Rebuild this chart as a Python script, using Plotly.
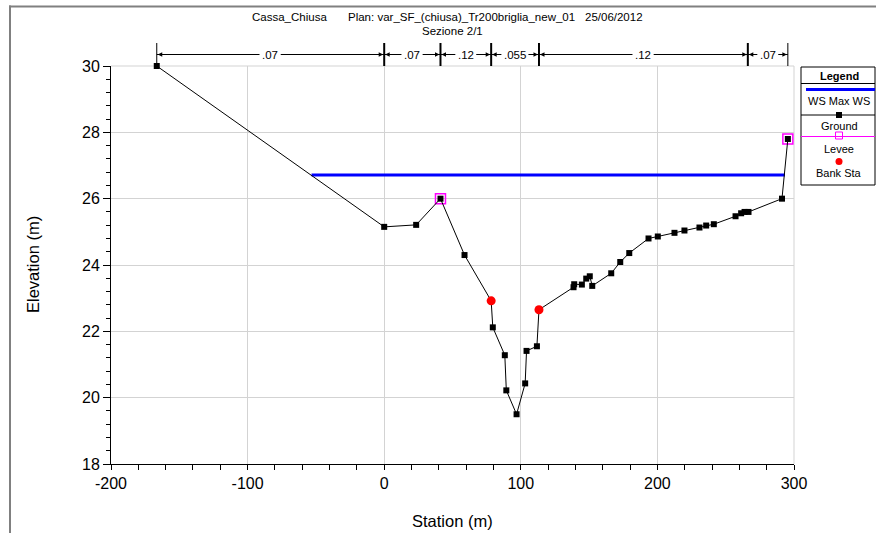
import plotly.graph_objects as go

# ---------------- data ----------------
ground_station = [-166.5, 0.0, 23.4, 41.2, 58.8, 78.3, 79.5, 88.3, 89.4, 96.9, 103.2, 104.2,
                  111.8, 113.3, 138.6, 139.1, 144.7, 147.9, 150.5, 152.3, 166.2, 172.8, 179.4,
                  193.5, 200.3, 212.5, 219.8, 230.8, 235.7, 241.3, 257.2, 261.3, 263.8, 266.7,
                  291.2, 295.5]
ground_elev = [30.0, 25.15, 25.21, 26.0, 24.30, 22.92, 22.12, 21.28, 20.22, 19.50, 20.43, 21.41,
               21.55, 22.65, 23.33, 23.42, 23.41, 23.59, 23.66, 23.37, 23.75, 24.09, 24.36,
               24.80, 24.86, 24.97, 25.04, 25.13, 25.19, 25.23, 25.47, 25.56, 25.60, 25.60,
               26.0, 27.8]
levee_station = [41.2, 295.5]
levee_elev = [26.0, 27.8]
bank_station = [78.3, 113.3]
bank_elev = [22.92, 22.65]
ws_station = [-53.2, 293.3]
ws_elev = [26.71, 26.71]
n_bounds = [-166.5, 0.0, 41.2, 78.3, 113.3, 266.2, 295.5]
n_values = [".07", ".07", ".12", ".055", ".12", ".07"]

title_left = "Cassa_Chiusa"
title_mid = "Plan: var_SF_(chiusa)_Tr200briglia_new_01"
title_right = "25/06/2012"
subtitle = "Sezione 2/1"
x_ticks = [-200, -100, 0, 100, 200, 300]
x_tick_labels = ["-200", "-100", "0", "100", "200", "300"]
y_ticks = [18, 20, 22, 24, 26, 28, 30]
y_tick_labels = ["18", "20", "22", "24", "26", "28", "30"]

# ---------------- layout helpers ----------------
W, H = 876, 533
L, R, T, B = 111, 82, 66, 69
pw, ph = W - L - R, H - T - B
FONT = "Liberation Sans, Arial, sans-serif"
GRID = "#d3d3d3"


def px(x):
    return (x - L) / pw


def py(y):
    return (H - B - y) / ph


fig = go.Figure()

fig.add_trace(go.Scatter(x=ws_station, y=ws_elev, mode="lines",
                         line=dict(color="#0000ff", width=3), name="WS Max WS",
                         hoverinfo="skip"))
fig.add_trace(go.Scatter(x=levee_station, y=levee_elev, mode="markers",
                         marker=dict(symbol="square-open", size=10, color="#ff00ff",
                                     line=dict(width=1.5, color="#ff00ff")),
                         name="Levee", cliponaxis=False))
fig.add_trace(go.Scatter(x=ground_station, y=ground_elev, mode="lines+markers",
                         line=dict(color="black", width=1),
                         marker=dict(symbol="square", size=6, color="black"),
                         name="Ground", cliponaxis=False))
fig.add_trace(go.Scatter(x=bank_station, y=bank_elev, mode="markers",
                         marker=dict(symbol="circle", size=9, color="#ff0000"),
                         name="Bank Sta"))

shapes = []
annotations = []

# grid lines at the plot edges (top / right)
shapes.append(dict(type="line", xref="paper", yref="paper", x0=0, x1=1, y0=1, y1=1,
                   line=dict(color=GRID, width=1), layer="below"))
shapes.append(dict(type="line", xref="paper", yref="paper", x0=1, x1=1, y0=0, y1=1,
                   line=dict(color=GRID, width=1), layer="below"))

# frame lines (top and left) of the exported picture
shapes.append(dict(type="line", xref="paper", yref="paper", x0=px(9), x1=px(W + 5),
                   y0=py(6.5), y1=py(6.5), line=dict(color="#808080", width=2)))
shapes.append(dict(type="line", xref="paper", yref="paper", x0=px(10), x1=px(10),
                   y0=py(5.5), y1=py(H + 5), line=dict(color="#808080", width=2)))

# Manning's n bar
y_arrow = py(54.5)
y_tick_top = py(43)
for i, b in enumerate(n_bounds):
    interior = 0 < i < len(n_bounds) - 1
    shapes.append(dict(type="line", xref="x", yref="paper", x0=b, x1=b,
                       y0=1.0, y1=y_tick_top,
                       line=dict(color="black", width=2 if interior else 1)))
for i, lab in enumerate(n_values):
    a, b = n_bounds[i], n_bounds[i + 1]
    c = (a + b) / 2
    shapes.append(dict(type="line", xref="x", yref="paper", x0=a, x1=b,
                       y0=y_arrow, y1=y_arrow, line=dict(color="black", width=1)))
    for tgt in (a, b):
        annotations.append(dict(x=tgt, y=y_arrow, xref="x", yref="paper",
                                ax=c, ay=0, axref="x", ayref="pixel",
                                text=lab, showarrow=True, arrowhead=2, arrowsize=0.9,
                                arrowwidth=1, arrowcolor="black", standoff=1,
                                bgcolor="white", borderpad=2,
                                font=dict(family=FONT, size=11.5, color="black")))


def label(txt, cx, cy, size, angle=0):
    annotations.append(dict(x=px(cx), y=py(cy), xref="paper", yref="paper",
                            text=txt, showarrow=False, xanchor="center", yanchor="middle",
                            textangle=angle,
                            font=dict(family=FONT, size=size, color="black")))


# title
label(title_left, 289, 17, 11.5)
label(title_mid, 461.5, 17, 11.5)
label(title_right, 614, 17, 11.5)
label(subtitle, 452, 31, 11.5)

# axis titles
label("Station (m)", 452, 521, 16.5)
label("Elevation (m)", 33, 265, 16.5, -90)

# custom legend box
lx0, lx1 = 801, 875
shapes.append(dict(type="rect", xref="paper", yref="paper", x0=px(lx0), x1=px(lx1),
                   y0=py(185), y1=py(67), line=dict(color="black", width=1),
                   fillcolor="white"))
shapes.append(dict(type="line", xref="paper", yref="paper", x0=px(lx0), x1=px(lx1),
                   y0=py(83.5), y1=py(83.5), line=dict(color="black", width=1)))
lcx = 839
label("<b>Legend</b>", lcx, 75.5, 11)
# WS
shapes.append(dict(type="line", xref="paper", yref="paper", x0=px(806), x1=px(875),
                   y0=py(89.5), y1=py(89.5), line=dict(color="#0000ff", width=3)))
# Ground
shapes.append(dict(type="line", xref="paper", yref="paper", x0=px(lx0), x1=px(lx1),
                   y0=py(115), y1=py(115), line=dict(color="black", width=1)))
shapes.append(dict(type="rect", xref="paper", yref="paper", x0=px(lcx - 3), x1=px(lcx + 3),
                   y0=py(118), y1=py(112), line=dict(color="black", width=0),
                   fillcolor="black"))
# Levee
shapes.append(dict(type="line", xref="paper", yref="paper", x0=px(lx0), x1=px(lx1),
                   y0=py(136.5), y1=py(136.5), line=dict(color="#ff00ff", width=1)))
shapes.append(dict(type="rect", xref="paper", yref="paper", x0=px(lcx - 3.5), x1=px(lcx + 3.5),
                   y0=py(139), y1=py(132), line=dict(color="#ff00ff", width=1),
                   fillcolor="rgba(0,0,0,0)"))
# Bank Sta
shapes.append(dict(type="circle", xref="paper", yref="paper", x0=px(lcx - 3.5), x1=px(lcx + 3.5),
                   y0=py(165), y1=py(158), line=dict(color="#ff0000", width=0),
                   fillcolor="#ff0000"))
label("WS Max WS", lcx, 101.5, 11)
label("Ground", lcx, 125.5, 11)
label("Levee", lcx, 149, 11)
label("Bank Sta", lcx, 173, 11)

fig.update_layout(
    width=W, height=H,
    margin=dict(l=L, r=R, t=T, b=B, pad=0),
    paper_bgcolor="white", plot_bgcolor="white",
    showlegend=False,
    shapes=shapes, annotations=annotations,
    font=dict(family=FONT, color="black"),
)
fig.update_xaxes(range=[-200, 300], tickvals=x_ticks, ticktext=x_tick_labels,
                 showgrid=True, gridcolor=GRID,
                 gridwidth=1, zeroline=False, showline=True, linecolor="black", linewidth=1,
                 ticks="outside", ticklen=5, tickcolor="black",
                 tickfont=dict(family=FONT, size=16, color="black"),
                 minor=dict(dtick=20, ticks="outside", ticklen=5, tickcolor="black",
                            showgrid=False))
fig.update_yaxes(range=[18, 30], tickvals=y_ticks, ticktext=y_tick_labels,
                 showgrid=True, gridcolor=GRID,
                 gridwidth=1, zeroline=False, showline=True, linecolor="black", linewidth=1,
                 ticks="outside", ticklen=7, tickcolor="black",
                 tickfont=dict(family=FONT, size=16, color="black"),
                 minor=dict(dtick=0.4, ticks="outside", ticklen=4, tickcolor="black",
                            showgrid=False))

fig.write_html("out.html", config={"displayModeBar": False},
               post_script="document.body.style.margin='0';document.body.style.overflow='hidden';")
